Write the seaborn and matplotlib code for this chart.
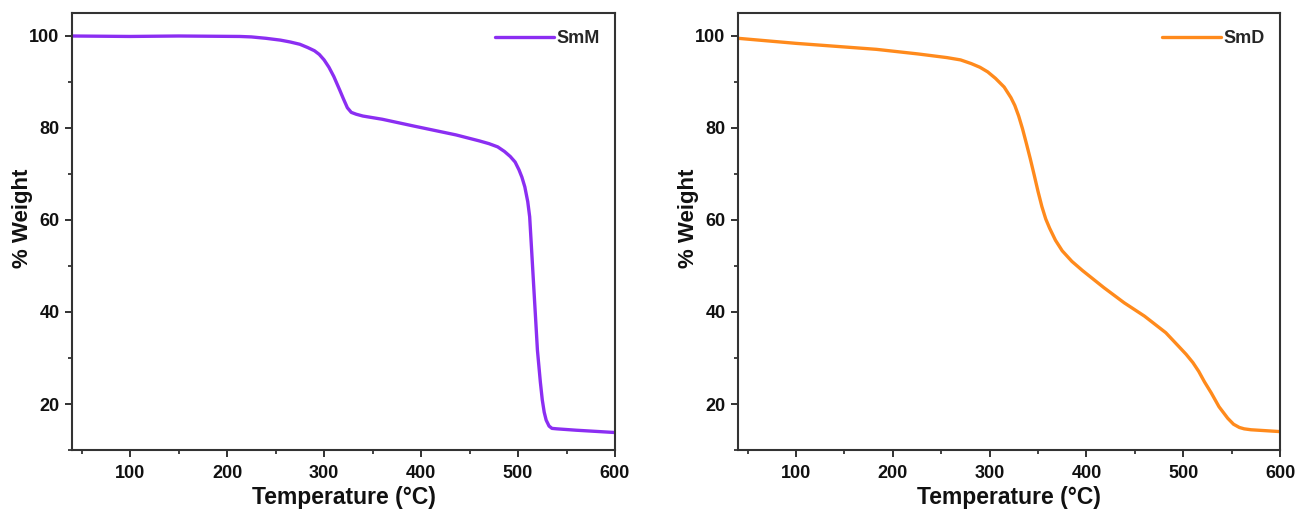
import matplotlib
matplotlib.use("Agg")
import matplotlib.pyplot as plt
import seaborn as sns
import pandas as pd
from matplotlib.ticker import MultipleLocator

smm_temp = [40, 100, 150, 213, 225, 240, 255, 265, 275, 283, 290, 295, 300, 305, 310, 316, 320, 324,
            328, 333, 340, 360, 393, 436, 460, 470, 479, 486, 492, 497, 501, 504, 507, 510, 512, 514,
            516, 518, 520, 523, 525, 527, 529, 532, 535, 540, 560, 600]
smm_weight = [100, 99.9, 100, 99.9, 99.8, 99.5, 99.1, 98.7, 98.2, 97.5, 96.8, 96.0, 94.8, 93.2, 91.2,
              88.3, 86.3, 84.4, 83.4, 83.0, 82.6, 81.9, 80.4, 78.5, 77.2, 76.6, 75.9, 74.9, 73.8, 72.6,
              70.9, 69.3, 67.2, 64.0, 60.7, 53.5, 46.2, 39.0, 31.7, 24.8, 20.9, 18.2, 16.5, 15.2, 14.7,
              14.6, 14.3, 13.8]

smd_temp = [40, 100, 183, 226, 256, 270, 281, 290, 298, 306, 315, 322, 326, 330, 334, 338, 342, 346,
            350, 354, 358, 362, 368, 375, 385, 396, 418, 439, 460, 482, 495, 503, 510, 516, 522, 529,
            537, 546, 552, 558, 563, 570, 600]
smd_weight = [99.5, 98.4, 97.1, 96.1, 95.3, 94.8, 94.0, 93.2, 92.2, 90.8, 88.9, 86.6, 84.9, 82.6, 79.8,
              76.6, 73.3, 69.8, 66.2, 62.9, 60.2, 58.2, 55.6, 53.3, 51.0, 49.0, 45.3, 42.0, 39.1, 35.5,
              32.6, 30.8, 29.0, 27.1, 24.8, 22.4, 19.4, 16.9, 15.6, 14.9, 14.6, 14.4, 14.0]

series = [("SmM", smm_temp, smm_weight, "#8B2EF2"),
          ("SmD", smd_temp, smd_weight, "#FF8A1C")]

sns.set_theme(style="white")
plt.rcParams['font.family'] = ['Liberation Sans', 'DejaVu Sans']
plt.rcParams['font.weight'] = 'bold'

fig = plt.figure(figsize=(12.95, 5.11), dpi=100)
W, H = 1295, 511
boxes = [(72, 615), (738, 1280)]
top, bottom = 13, 450

for (name, t, w, c), (l, r) in zip(series, boxes):
    ax = fig.add_axes([l / W, (H - bottom) / H, (r - l) / W, (bottom - top) / H])
    df = pd.DataFrame({"Temperature": t, "Weight": w, "Sample": name})
    sns.lineplot(data=df, x="Temperature", y="Weight", hue="Sample", palette=[c], ax=ax,
                 linewidth=2.4, sort=False)
    ax.set_xlim(40, 600)
    ax.set_ylim(10, 105)
    ax.xaxis.set_major_locator(MultipleLocator(100))
    ax.xaxis.set_minor_locator(MultipleLocator(50))
    ax.yaxis.set_major_locator(MultipleLocator(20))
    ax.yaxis.set_minor_locator(MultipleLocator(10))
    ax.tick_params(which='major', direction='out', length=5, width=1.3, colors='#222222',
                   labelsize=13, bottom=True, left=True, labelcolor='#111111')
    ax.tick_params(axis='x', which='major', pad=6)
    ax.tick_params(axis='y', which='major', pad=4)
    ax.tick_params(which='minor', direction='out', length=3, width=1.2, colors='#222222',
                   bottom=True, left=True)
    for lab in ax.get_xticklabels() + ax.get_yticklabels():
        lab.set_fontweight('bold')
    for s in ax.spines.values():
        s.set_color('#333333')
        s.set_linewidth(1.5)
    ax.set_xlabel("Temperature (°C)", fontsize=16.5, fontweight='bold', color='#111111')
    ax.set_ylabel("% Weight", fontsize=16, fontweight='bold', color='#111111')
    ax.xaxis.set_label_coords(0.5, -0.082)
    ax.yaxis.set_label_coords(-0.072, 0.53)
    leg = ax.legend(loc='upper right', bbox_to_anchor=(0.996, 0.989), frameon=False, fontsize=13,
                    handlelength=3.3, handletextpad=0.15, borderaxespad=0.3)
    for txt in leg.get_texts():
        txt.set_fontweight('bold')

fig.savefig("out.png", dpi=100, facecolor='white')
